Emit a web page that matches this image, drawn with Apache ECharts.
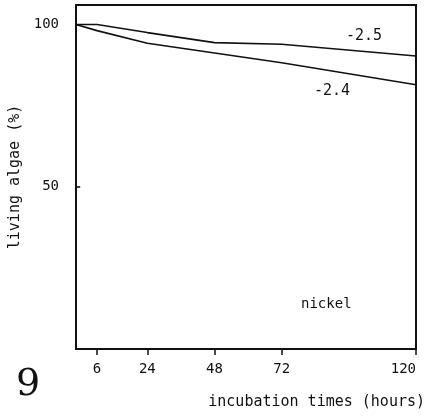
<!DOCTYPE html>
<html>
<head>
<meta charset="utf-8">
<script src="https://cdn.jsdelivr.net/npm/echarts@6/dist/echarts.min.js"></script>
<style>
  html, body { margin: 0; padding: 0; background: #fff; }
  #chart { width: 427px; height: 417px; }
</style>
</head>
<body>
<div id="chart"></div>
<script>
// Incubation times (hours) at which living algae were counted
const hours = [-1.5, 6, 24, 48, 72, 120];
// Living algae (%) for the two nickel concentrations (log molar)
const seriesHigh = [100, 100, 97.5, 94.4, 93.9, 90.3];   // -2.5
const seriesLow  = [100, 98.1, 94.2, 91.2, 88.2, 81.4];  // -2.4
const seriesNames = ['-2.5', '-2.4'];
// Axis tick values
const xTicks = [6, 24, 48, 72, 120];
const yTicks = [50, 100];

const mono = '"DejaVu Sans Mono", "Liberation Mono", monospace';

const chart = echarts.init(document.getElementById('chart'), null, { renderer: 'canvas' });

chart.setOption({
  animation: false,
  backgroundColor: '#ffffff',
  grid: {
    left: 76, right: 11, top: 5, bottom: 68,
    outerBoundsMode: 'none', containLabel: false,
    show: true, borderColor: '#111', borderWidth: 2, backgroundColor: 'transparent'
  },
  xAxis: {
    type: 'value', min: -1.5, max: 120,
    splitLine: { show: false },
    axisLine: { show: false },
    axisTick: { show: true, inside: false, length: 6, customValues: xTicks,
                lineStyle: { color: '#111', width: 1.5 } },
    axisLabel: { show: true, customValues: xTicks, margin: 13, alignMaxLabel: 'right',
                 fontFamily: mono, fontSize: 14, color: '#111' },
    name: 'incubation times (hours)',
    nameLocation: 'end',
    nameGap: 0,
    nameTextStyle: { fontFamily: mono, fontSize: 15, color: '#111',
                     align: 'right', verticalAlign: 'top', padding: [46, -9, 0, 0] }
  },
  yAxis: {
    type: 'value', min: 0, max: 106, offset: 3,
    splitLine: { show: false },
    axisLine: { show: false },
    axisTick: { show: true, inside: false, length: 5, customValues: yTicks,
                lineStyle: { color: '#111', width: 1.6 } },
    axisLabel: { show: true, customValues: yTicks, margin: 14,
                 fontFamily: mono, fontSize: 14, color: '#111' },
    name: 'living algae (%)',
    nameLocation: 'middle',
    nameGap: 50,
    nameRotate: 90,
    nameTextStyle: { fontFamily: mono, fontSize: 15, color: '#111' }
  },
  series: [
    {
      name: seriesNames[0], type: 'line', symbol: 'none',
      data: hours.map((h, i) => [h, seriesHigh[i]]),
      lineStyle: { color: '#111', width: 1.6 }
    },
    {
      name: seriesNames[1], type: 'line', symbol: 'none',
      data: hours.map((h, i) => [h, seriesLow[i]]),
      lineStyle: { color: '#111', width: 1.6 }
    }
  ],
  graphic: [
    { type: 'text', left: 346, top: 29,
      style: { text: seriesNames[0], font: '15px ' + mono, fill: '#111' } },
    { type: 'text', left: 314, top: 84,
      style: { text: seriesNames[1], font: '15px ' + mono, fill: '#111' } },
    { type: 'text', left: 301, top: 297,
      style: { text: 'nickel', font: '14px ' + mono, fill: '#111' } },
    { type: 'text', left: 16, top: 366,
      style: { text: '9', font: '38px "DejaVu Serif", "Liberation Serif", serif', fill: '#111' } }
  ]
});
</script>
</body>
</html>
